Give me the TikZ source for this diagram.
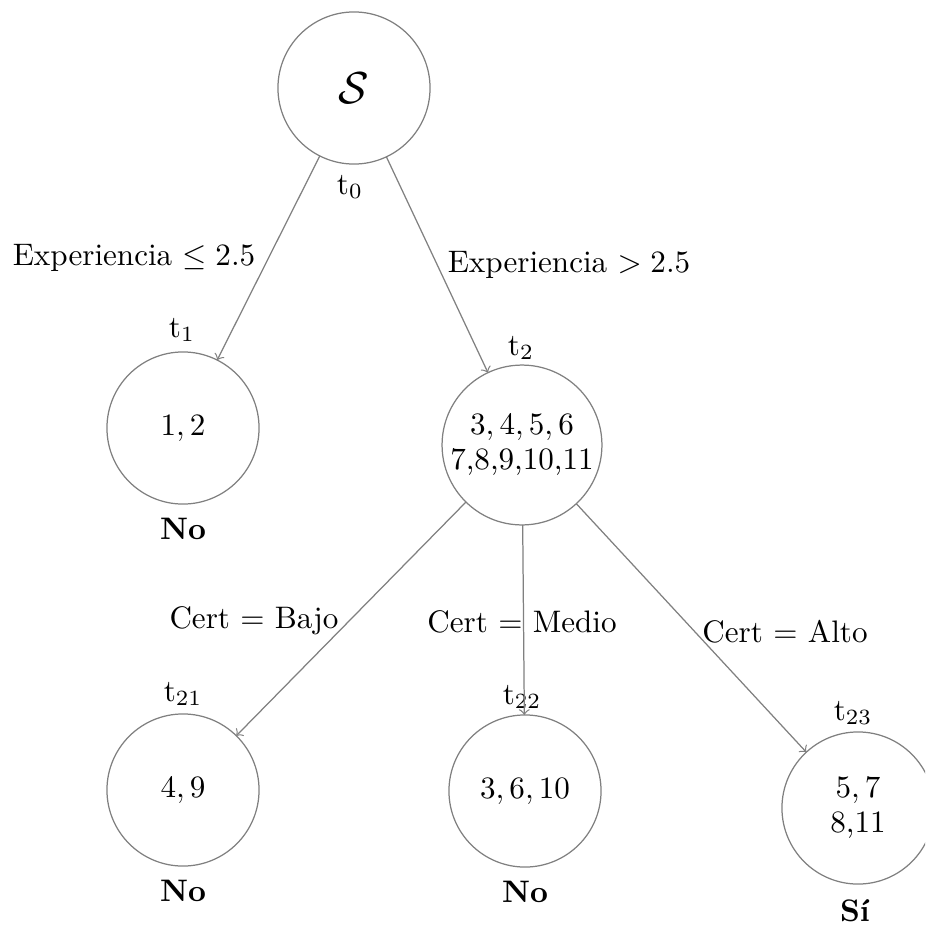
\documentclass[tikz,border=0pt]{standalone}
\begin{document}
\begin{tikzpicture}[x=0.3215pt,y=-0.3215pt,
  treenode/.style={circle,draw=gray,line width=0.4pt,inner sep=0pt,outer sep=0pt,minimum size=48.9pt,align=center},
  bignode/.style={treenode,minimum size=51.4pt},
  edge/.style={draw=gray,line width=0.4pt,->},
  tag/.style={inner sep=0pt},
  verdict/.style={inner sep=0pt,font=\bfseries}]
\useasboundingbox (0,0) rectangle (925,926);
\clip (0,0) rectangle (925,926);

% tree nodes
\node[treenode] (s) at (354,88) {\Large $\mathcal{S}$};
\node[treenode] (t1) at (183,428) {$1, 2$};
\node[bignode] (t2) at (522,445) {$3, 4, 5, 6$\\[-1pt]7,8,9,10,11};
\node[treenode] (t21) at (183,790) {$4, 9$};
\node[treenode] (t22) at (525,791) {$3, 6, 10$};
\node[treenode] (t23) at (858,808) {$5, 7$\\[-1pt]8,11};

% node names
\node[tag] (l0) at (350,187) {t$_0$};
\node[tag] (l1) at (182,330) {t$_1$};
\node[tag] (l2) at (521,348) {t$_2$};
\node[tag] (l21) at (183,694) {t$_{21}$};
\node[tag] (l22) at (522,697) {t$_{22}$};
\node[tag] (l23) at (853,713) {t$_{23}$};

% class of each leaf
\node[verdict] (v1) at (183,529) {No};
\node[verdict] (v21) at (183,891) {No};
\node[verdict] (v22) at (525,892) {No};
\node[verdict] (v23) at (855,911) {Sí};

% splits
\draw[edge] (s) -- (t1);
\draw[edge] (s) -- (t2);
\draw[edge] (t2) -- (t21);
\draw[edge] (t2) -- (t22);
\draw[edge] (t2) -- (t23);

% split conditions
\node[tag] (c1) at (134,258) {Experiencia $\leq 2.5$};
\node[tag] (c2) at (569,265) {Experiencia $> 2.5$};
\node[tag] (c21) at (254,621) {Cert $=$ Bajo};
\node[tag] (c22) at (522,622) {Cert $=$ Medio};
\node[tag] (c23) at (785,632) {Cert $=$ Alto};
\end{tikzpicture}
\end{document}
